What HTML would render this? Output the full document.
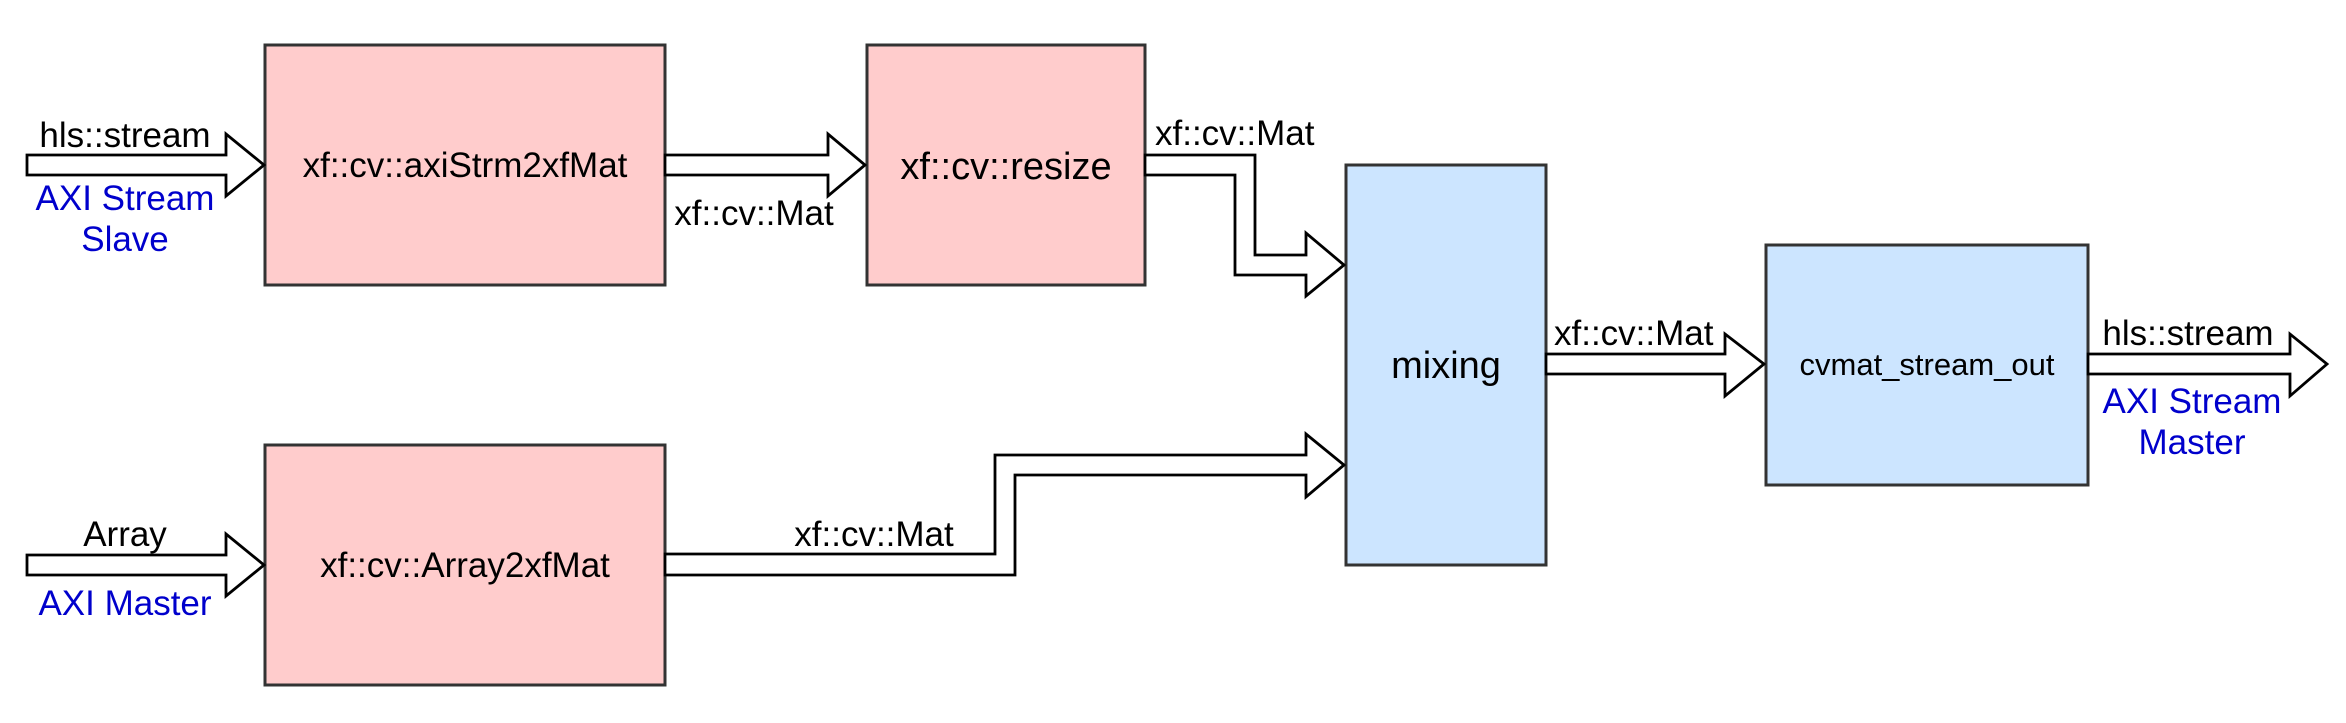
<!DOCTYPE html>
<html><head><meta charset="utf-8"><style>
html,body{margin:0;padding:0;background:#fff;}
svg{display:block;}
text{font-family:"Liberation Sans",Arial,sans-serif;}
</style></head><body>
<svg width="2346" height="723" viewBox="0 0 2346 723" xmlns="http://www.w3.org/2000/svg">
<g stroke="#333" stroke-width="3">
<rect x="265" y="45" width="400" height="240" fill="#ffcccc"/>
<rect x="867" y="45" width="278" height="240" fill="#ffcccc"/>
<rect x="265" y="445" width="400" height="240" fill="#ffcccc"/>
<rect x="1346" y="165" width="200" height="400" fill="#cce5ff"/>
<rect x="1766" y="245" width="322" height="240" fill="#cce5ff"/>
</g>
<g fill="#fff" stroke="#000" stroke-width="2.8" stroke-linejoin="miter">
<polygon points="27,155 226,155 226,134 264,165 226,196 226,175 27,175"/>
<polygon points="665,155 828,155 828,134 865,165 828,196 828,175 665,175"/>
<polygon points="1145,155 1255,155 1255,255 1306,255 1306,233 1344,265 1306,296 1306,275 1235,275 1235,175 1145,175"/>
<polygon points="27,555 226,555 226,534 264,565 226,596 226,575 27,575"/>
<polygon points="665,554 995,554 995,455 1306,455 1306,434 1344,465 1306,497 1306,475 1015,475 1015,575 665,575"/>
<polygon points="1546,354 1725,354 1725,334 1764,364 1725,396 1725,374 1546,374"/>
<polygon points="2088,354 2290,354 2290,334 2327,364 2290,396 2290,374 2088,374"/>
</g>
<g font-size="35" fill="#000">
<text x="125" y="147" text-anchor="middle">hls::stream</text>
<text x="465" y="177" text-anchor="middle">xf::cv::axiStrm2xfMat</text>
<text x="1006" y="179" text-anchor="middle" font-size="38">xf::cv::resize</text>
<text x="754" y="225" text-anchor="middle">xf::cv::Mat</text>
<text x="1155" y="145">xf::cv::Mat</text>
<text x="125" y="546" text-anchor="middle">Array</text>
<text x="465" y="577" text-anchor="middle">xf::cv::Array2xfMat</text>
<text x="874" y="546" text-anchor="middle">xf::cv::Mat</text>
<text x="1446" y="378" text-anchor="middle" font-size="38">mixing</text>
<text x="1554" y="345">xf::cv::Mat</text>
<text x="1927" y="375" text-anchor="middle" font-size="31">cvmat_stream_out</text>
<text x="2188" y="345" text-anchor="middle">hls::stream</text>
</g>
<g font-size="35" fill="#0000cc" text-anchor="middle">
<text x="125" y="210">AXI Stream</text>
<text x="125" y="251">Slave</text>
<text x="125" y="615">AXI Master</text>
<text x="2192" y="413">AXI Stream</text>
<text x="2192" y="454">Master</text>
</g>
</svg>
</body></html>
